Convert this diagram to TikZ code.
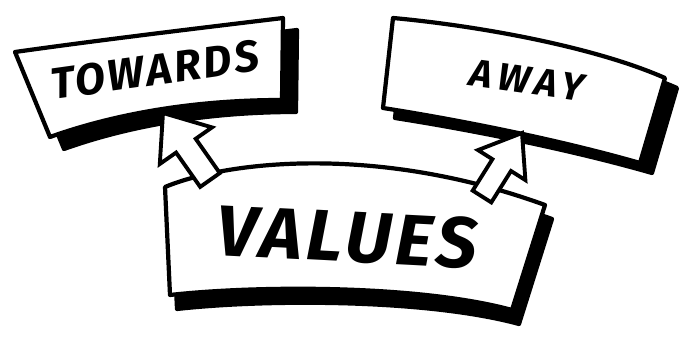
\documentclass[tikz,border=0pt]{standalone}
\usepackage{fontspec}
\setmainfont{Fira Sans}
\newfontfamily\sketchfont[LetterSpace=6]{Fira Sans}
\newfontfamily\sketchwidefont[LetterSpace=14]{Fira Sans}
\usetikzlibrary{calc}

\tikzset{
  banner/.style={draw=black, fill=white, line width=2.4pt, line join=round},
  bannershadow/.style={draw=black, fill=black, line width=2.4pt, line join=round},
  pointer/.style={draw=black, fill=white, line width=2.2pt, line join=miter},
  bannertext/.style={font={\sketchfont\bfseries\itshape\fontsize{#1}{#1}\selectfont}},
  widetext/.style={font={\sketchwidefont\bfseries\itshape\fontsize{#1}{#1}\selectfont}}
}

% banner outlines (pixel units, y downwards)
\newcommand\towardspath{(15,52) .. controls (100,40) and (200,28) .. (283,18) -- (282,100) .. controls (200,100) and (120,112) .. (50,137) -- cycle}
\newcommand\awaypath{(393,18) .. controls (470,25) and (590,45) .. (665,78) -- (640,163) .. controls (560,140) and (460,120) .. (383,108) -- cycle}
\newcommand\valuespath{(165,187) .. controls (230,160) and (380,145) .. (545,205) -- (512,310) .. controls (420,285) and (260,285) .. (170,295) -- cycle}

\begin{document}
\begin{tikzpicture}[x=0.02cm, y=-0.02cm]
    \useasboundingbox (0,0) rectangle (680,337);

    % Shadows
    \begin{scope}[shift={(14,12)}]
      \path[bannershadow] \towardspath;
    \end{scope}
    \begin{scope}[shift={(12,10)}]
      \path[bannershadow] \awaypath;
    \end{scope}
    \begin{scope}[shift={(7,14)}]
      \path[bannershadow] \valuespath;
    \end{scope}

    % Banners
    \path[banner] \towardspath;
    \path[banner] \awaypath;
    \path[banner] \valuespath;

    % Texts
    \node[bannertext=25, rotate=8] (towards) at (155,70) {TOWARDS};
    \node[widetext=22, rotate=-8] (away) at (527,80) {AWAY};
    \node[bannertext=41, rotate=-3] (values) at (347,237) {VALUES};

    % Pointer to towards
    \draw[pointer] (163,113) -- (212,127.4) -- (195.7,138.8) -- (219.8,173.1)
      -- (200.2,186.9) -- (176.1,152.6) -- (159.8,164) -- cycle;

    % Pointer to away
    \draw[pointer] (522,133) -- (525.4,180.1) -- (511,171) -- (491.3,202.4)
      -- (472.7,190.6) -- (492.4,159.2) -- (478,150.1) -- cycle;
\end{tikzpicture}
\end{document}
